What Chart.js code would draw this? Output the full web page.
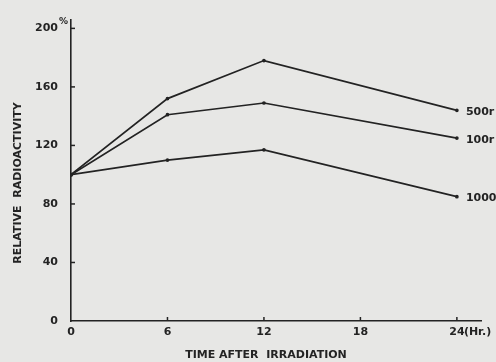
<!DOCTYPE html>
<html>
<head>
<meta charset="utf-8">
<script src="https://cdn.jsdelivr.net/npm/chart.js@4.4.1/dist/chart.umd.min.js"></script>
<style>
  html, body { margin: 0; padding: 0; background: #e7e7e5; }
  #wrap { width: 496px; height: 362px; position: relative; }
</style>
</head>
<body>
<div id="wrap"><canvas id="c" width="496" height="362"></canvas></div>
<script>
// ---- data ----
const hours = [0, 6, 12, 24];
const dose500 = [100, 152, 178, 144];
const dose100 = [100, 141, 149, 125];
const dose1000 = [100, 110, 117, 85];
const seriesLabels = ['500r', '100r', '1000r'];
const xTickValues = [0, 6, 12, 18, 24];
const yTickValues = [0, 40, 80, 120, 160, 200];
const xTitle = 'TIME AFTER  IRRADIATION';
const yTitle = 'RELATIVE  RADIOACTIVITY';

const INK = '#232323';
const FONT = '"DejaVu Sans", sans-serif';

const toPts = arr => arr.map((v, i) => ({ x: hours[i], y: v }));
const seriesData = [dose500, dose100, dose1000];

const decor = {
  id: 'decor',
  afterDraw(chart) {
    const ctx = chart.ctx;
    const xs = chart.scales.x, ys = chart.scales.y;
    const x0 = xs.getPixelForValue(0);
    const y0 = ys.getPixelForValue(0);
    ctx.save();
    ctx.strokeStyle = INK;
    ctx.lineWidth = 1.5;
    // inward tick marks
    yTickValues.forEach(v => {
      if (v === 0) return;
      const py = ys.getPixelForValue(v);
      ctx.beginPath(); ctx.moveTo(x0, py); ctx.lineTo(x0 + 4, py); ctx.stroke();
    });
    xTickValues.forEach(v => {
      if (v === 0) return;
      const px = xs.getPixelForValue(v);
      ctx.beginPath(); ctx.moveTo(px, y0); ctx.lineTo(px, y0 - 4); ctx.stroke();
    });
    ctx.fillStyle = INK;
    // percent sign
    ctx.font = 'bold 9px ' + FONT;
    ctx.textAlign = 'left'; ctx.textBaseline = 'middle';
    ctx.fillText('%', 59, ys.getPixelForValue(200) - 7);
    // (Hr.) after last tick label
    ctx.font = 'bold 11px ' + FONT;
    ctx.textAlign = 'left';
    const p24 = xs.getPixelForValue(24);
    ctx.fillText('(Hr.)', p24 + 7, y0 + 11);
    // series end labels
    ctx.font = 'bold 11px ' + FONT;
    seriesData.forEach((arr, i) => {
      const last = arr.length - 1;
      const px = xs.getPixelForValue(hours[last]);
      const py = ys.getPixelForValue(arr[last]);
      ctx.fillText(seriesLabels[i], px + 9, py + 2);
    });
    // axis titles
    ctx.font = 'bold 11px ' + FONT;
    ctx.textAlign = 'center';
    ctx.fillText(xTitle, 266, 355);
    ctx.translate(18, 183);
    ctx.rotate(-Math.PI / 2);
    ctx.fillText(yTitle, 0, 0);
    ctx.restore();
  }
};

new Chart(document.getElementById('c'), {
  type: 'line',
  data: {
    datasets: seriesData.map((arr, i) => ({
      label: seriesLabels[i],
      data: toPts(arr),
      borderColor: INK,
      backgroundColor: INK,
      borderWidth: 1.7,
      pointRadius: 1,
      pointHoverRadius: 1,
      tension: 0,
      fill: false
    }))
  },
  options: {
    responsive: false,
    animation: false,
    events: [],
    layout: { padding: { left: 0, right: 15, top: 10, bottom: 0 } },
    plugins: { legend: { display: false }, tooltip: { enabled: false } },
    scales: {
      x: {
        type: 'linear',
        min: 0,
        max: 25.5,
        afterBuildTicks: s => { s.ticks = xTickValues.map(v => ({ value: v })); },
        afterFit: s => { s.height = 41; },
        grid: { display: true, drawOnChartArea: false, drawTicks: false, color: 'rgba(0,0,0,0)' },
        border: { display: true, color: INK, width: 1.6 },
        ticks: {
          color: INK,
          padding: 5,
          font: { family: FONT, size: 11, weight: 'bold' },
          maxRotation: 0,
          autoSkip: false,
          callback: v => String(v)
        }
      },
      y: {
        type: 'linear',
        min: 0,
        max: 206,
        afterBuildTicks: s => { s.ticks = yTickValues.map(v => ({ value: v })); },
        afterFit: s => { s.width = 71; },
        grid: { display: true, drawOnChartArea: false, drawTicks: false, color: 'rgba(0,0,0,0)' },
        border: { display: true, color: INK, width: 1.6 },
        ticks: {
          color: INK,
          padding: 13,
          font: { family: FONT, size: 11, weight: 'bold' },
          autoSkip: false,
          callback: v => String(v)
        }
      }
    }
  },
  plugins: [decor]
});
</script>
</body>
</html>
